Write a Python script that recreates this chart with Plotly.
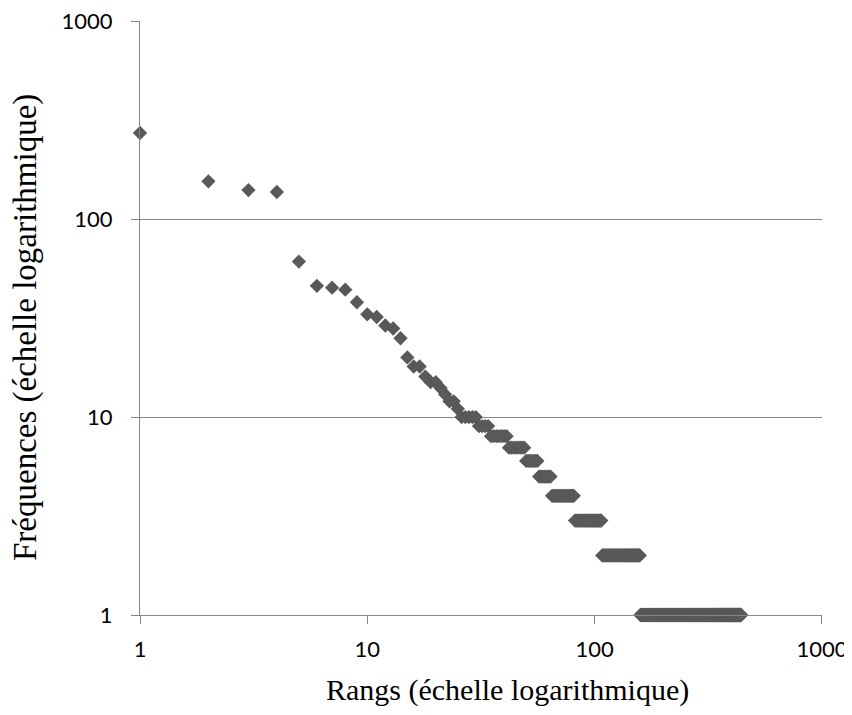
import plotly.graph_objects as go

# Top ranks with individual frequencies (rank 1..25)
top_ranks = list(range(1, 26))
top_freqs = [272, 155, 140, 137, 61, 46, 45, 44, 38, 33, 32, 29, 28, 25,
             20, 18, 18, 16, 15, 15, 14, 13, 12, 12, 11]

# Frequency plateaus: each frequency level and the last rank sharing it
level_freqs = [10, 9, 8, 7, 6, 5, 4, 3, 2, 1]
level_last_rank = [30, 34, 41, 49, 56, 64, 81, 107, 158, 441]

# X/Y tick labels
tick_vals = [1, 10, 100, 1000]
tick_text = ["1", "10", "100", "1000"]

ranks = list(top_ranks)
freqs = list(top_freqs)
start = top_ranks[-1] + 1
for f, last in zip(level_freqs, level_last_rank):
    for r in range(start, last + 1):
        ranks.append(r)
        freqs.append(f)
    start = last + 1

GRID = "#878787"
MARK = "#595959"

# page body has an 8px default margin: plot area targets page px
# left 140, right 822, top 21, bottom 615
PL, PT = 132, 13          # figure-space margins (page px minus 8)
PW, PH = 682, 594
PR, PB = 30, 92

fig = go.Figure()
fig.add_trace(go.Scatter(
    x=ranks, y=freqs, mode="markers",
    marker=dict(symbol="diamond", size=11, color=MARK, line=dict(width=0)),
    cliponaxis=False, showlegend=False, hoverinfo="x+y",
))

axis_font = dict(family="Lato", size=22, color="#000000")
fig.update_xaxes(
    type="log", range=[0, 3.0004], tickvals=tick_vals, ticktext=tick_text,
    showgrid=False, showline=True, linecolor=GRID, linewidth=1.3,
    ticks="outside", ticklen=8, tickcolor=GRID, tickwidth=1.3,
    tickfont=axis_font, zeroline=False, ticklabelstandoff=6,
    ticklabeloverflow="allow", automargin=False,
)
fig.update_yaxes(
    type="log", range=[0, 3.0004], tickvals=tick_vals, ticktext=tick_text,
    showgrid=True, gridcolor=GRID, gridwidth=1.3,
    showline=True, linecolor=GRID, linewidth=1.3,
    ticks="outside", ticklen=8, tickcolor=GRID, tickwidth=1.3,
    tickfont=axis_font, zeroline=False, ticklabelstandoff=14,
    ticklabeloverflow="allow", automargin=False,
)

def px_x(p):
    return (p - 140) / PW

def px_y(p):
    return (615 - p) / PH

fig.add_annotation(
    text="Rangs (échelle logarithmique)", xref="paper", yref="paper",
    x=px_x(507), y=px_y(690), showarrow=False,
    xanchor="center", yanchor="middle",
    font=dict(family="Liberation Serif", size=30, color="#000000"),
)
fig.add_annotation(
    text="Fréquences (échelle logarithmique)", xref="paper", yref="paper",
    x=px_x(25), y=px_y(328), showarrow=False, textangle=-90,
    xanchor="center", yanchor="middle",
    font=dict(family="Liberation Serif", size=33, color="#000000"),
)

fig.update_layout(
    width=PL + PW + PR, height=PT + PH + PB,
    margin=dict(l=PL, r=PR, t=PT, b=PB),
    plot_bgcolor="white", paper_bgcolor="white",
)

fig.write_html("out.html")
